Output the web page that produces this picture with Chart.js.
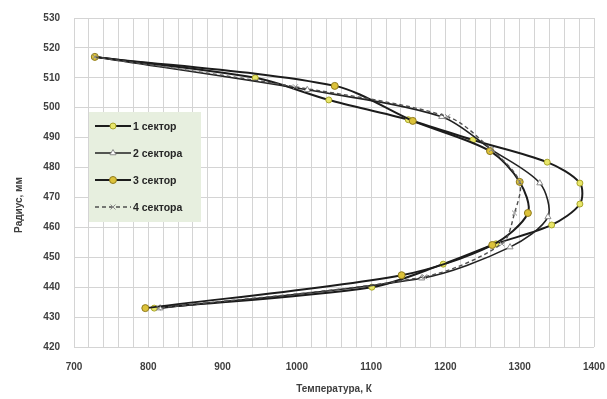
<!DOCTYPE html>
<html lang="ru">
<head>
  <meta charset="UTF-8">
  <title>Радиус / Температура</title>
  <script src="https://cdn.jsdelivr.net/npm/chart.js"></script>
  <style>
    body { margin: 0; background: #fff; }
    #wrap { width: 607px; height: 399px; }
  </style>
</head>
<body>
  <div id="wrap"><canvas id="chart" width="607" height="399"></canvas></div>

  <script>
    // series: temperature (K) vs radius (mm)
    const sector1T = [728, 944, 1043, 1150, 1237, 1337, 1381, 1381, 1343, 1268, 1197, 1101, 808];
    const sector1R = [517, 510, 502.6, 496, 489.2, 481.8, 474.8, 467.8, 460.8, 454.5, 447.7, 440, 433];
    const sector2T = [728, 1014, 1195, 1262, 1327, 1338, 1287, 1168, 816];
    const sector2R = [517, 506, 497, 486, 474.8, 463.5, 453.4, 443, 433];
    const sector3T = [728, 1051, 1156, 1260, 1300, 1311, 1263, 1141, 796];
    const sector3R = [517, 507.3, 495.6, 485.5, 475.2, 464.8, 454.1, 444, 433];
    const sector4T = [728, 998, 1203, 1262, 1300, 1293, 1276, 1172, 814];
    const sector4R = [517, 507, 497, 486, 475.2, 464.8, 454.5, 443.5, 433];

    const labels = ['1 сектор', '2 сектора', '3 сектор', '4 сектора'];
    const xTicks = [700, 800, 900, 1000, 1100, 1200, 1300, 1400];

    const toPoints = (ts, rs) => ts.map((t, i) => ({ x: t, y: rs[i] }));

    const styles = [
      { line: '#1c1c1c', width: 2, dash: [], point: 'circle', r: 3, fill: '#e8e66a', stroke: '#a9a52a' },
      { line: '#222222', width: 1.6, dash: [], point: 'triangle', r: 3.5, fill: '#ffffff', stroke: '#8c8c8c' },
      { line: '#1c1c1c', width: 2, dash: [], point: 'circle', r: 3.5, fill: '#dcc23a', stroke: '#8f7a1c' },
      { line: '#505050', width: 1.4, dash: [4, 3], point: 'crossRot', r: 3.5, fill: '#ffffff', stroke: '#8c8c8c' }
    ];

    const series = [
      toPoints(sector1T, sector1R),
      toPoints(sector2T, sector2R),
      toPoints(sector3T, sector3R),
      toPoints(sector4T, sector4R)
    ];

    const fontFamily = '"Liberation Sans", Arial, sans-serif';

    // legend box inside the plot + rotated y title
    const extras = {
      id: 'extras',
      afterDraw(chart) {
        const ctx = chart.ctx;
        ctx.save();
        ctx.fillStyle = '#e7efdf';
        ctx.fillRect(89, 112, 112, 110);
        const rows = [126, 153, 180, 207];
        rows.forEach((y, i) => {
          const s = styles[i];
          ctx.strokeStyle = s.line;
          ctx.lineWidth = s.width;
          ctx.setLineDash(s.dash);
          ctx.beginPath();
          ctx.moveTo(95, y);
          ctx.lineTo(131, y);
          ctx.stroke();
          ctx.setLineDash([]);
          ctx.fillStyle = s.fill;
          ctx.strokeStyle = s.stroke;
          ctx.lineWidth = 1;
          Chart.helpers.drawPoint(ctx, { pointStyle: s.point, radius: s.r, borderWidth: 1, rotation: 0 }, 113, y);
          ctx.fillStyle = '#262626';
          ctx.font = 'bold 10.5px ' + fontFamily;
          ctx.textAlign = 'left';
          ctx.textBaseline = 'middle';
          ctx.fillText(labels[i], 133, y + 1);
        });
        ctx.translate(19, 205);
        ctx.rotate(-Math.PI / 2);
        ctx.fillStyle = '#404040';
        ctx.font = 'bold 10px ' + fontFamily;
        ctx.textAlign = 'center';
        ctx.textBaseline = 'middle';
        ctx.fillText('Радиус, мм', 0, 0);
        ctx.restore();
      }
    };

    new Chart(document.getElementById('chart').getContext('2d'), {
      type: 'scatter',
      data: {
        datasets: series.map((pts, i) => ({
          label: labels[i],
          data: pts,
          showLine: true,
          tension: 0.3,
          borderColor: styles[i].line,
          borderWidth: styles[i].width,
          borderDash: styles[i].dash,
          pointStyle: styles[i].point,
          pointRadius: styles[i].r,
          pointBackgroundColor: styles[i].fill,
          pointBorderColor: styles[i].stroke,
          pointBorderWidth: 1,
          order: 4 - i
        }))
      },
      options: {
        responsive: false,
        animation: false,
        layout: { padding: { left: 0, right: 13, top: 18, bottom: 0 } },
        plugins: { legend: { display: false }, tooltip: { enabled: false } },
        scales: {
          x: {
            type: 'linear',
            min: 700,
            max: 1400,
            grid: { color: '#d4d4d4', drawTicks: false },
            border: { display: false },
            ticks: {
              stepSize: 20,
              autoSkip: false,
              maxRotation: 0,
              padding: 14,
              color: '#404040',
              font: { family: fontFamily, size: 10, weight: 'bold' },
              callback: v => xTicks.includes(v) ? v : ''
            },
            title: {
              display: true,
              text: 'Температура, К',
              color: '#404040',
              padding: { top: 4, bottom: 4 },
              font: { family: fontFamily, size: 10, weight: 'bold' }
            },
            afterFit: s => { s.height = 52; s.paddingLeft = 0; s.paddingRight = 0; }
          },
          y: {
            min: 420,
            max: 530,
            grid: { color: '#d4d4d4', drawTicks: false },
            border: { display: false },
            ticks: {
              stepSize: 10,
              padding: 14,
              color: '#404040',
              font: { family: fontFamily, size: 10, weight: 'bold' }
            },
            afterFit: s => { s.width = 74; s.paddingTop = 0; s.paddingBottom = 0; }
          }
        }
      },
      plugins: [extras]
    });
  </script>
</body>
</html>
